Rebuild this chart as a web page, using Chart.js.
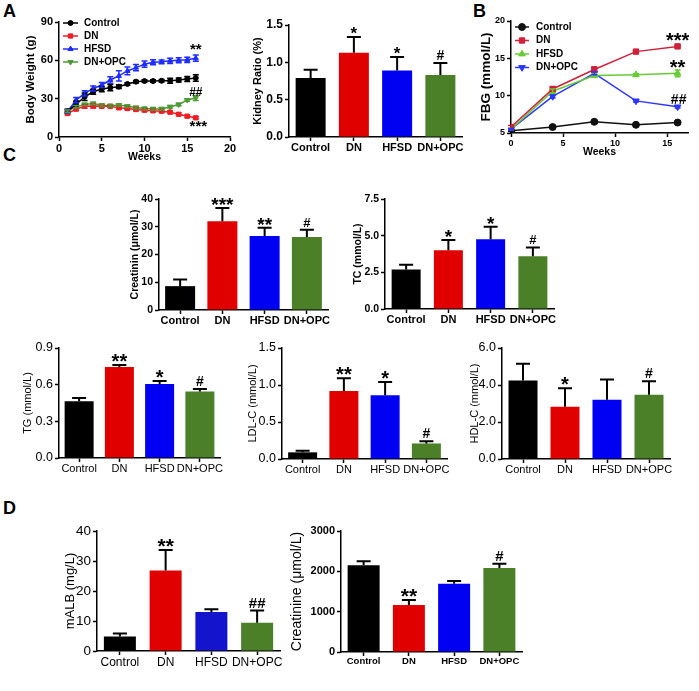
<!DOCTYPE html>
<html>
<head>
<meta charset="utf-8">
<script src="https://cdn.jsdelivr.net/npm/chart.js@4.4.0/dist/chart.umd.min.js"></script>
<style>
  html, body { margin: 0; padding: 0; background: #fff; }
  #fig { position: relative; width: 699px; height: 691px; overflow: hidden; font-family: 'Liberation Sans', Arial, sans-serif; }
  .tag { position: absolute; font-weight: bold; font-size: 18px; line-height: 1; color: #000; }
  canvas { position: absolute; }
</style>
</head>
<body>
<div id="fig">
  <div class="tag" style="left:3px;top:2px">A</div>
  <div class="tag" style="left:473px;top:2px">B</div>
  <div class="tag" style="left:3px;top:146px">C</div>
  <div class="tag" style="left:3px;top:499px">D</div>
</div>
<script>
const FONT = "'Liberation Sans', Arial, sans-serif";
const groups = ['Control', 'DN', 'HFSD', 'DN+OPC'];
const groupColors = ['#000000', '#e10000', '#0000f2', '#4b7f28'];

// A - body weight over weeks
const weeksA = [1, 2, 3, 4, 5, 6, 7, 8, 9, 10, 11, 12, 13, 14, 15, 16];
const bwControl = [20.2, 25.5, 31.5, 35.4, 37.5, 38.6, 39.4, 41.5, 43.3, 43.8, 43.8, 44.0, 44.0, 44.6, 45.4, 46.2];
const bwDN = [18.4, 21.8, 24.0, 24.2, 24.0, 24.0, 22.8, 22.3, 21.5, 21.0, 20.5, 20.2, 19.4, 17.8, 16.3, 15.0];
const bwHFSD = [20.0, 28.9, 34.1, 38.0, 40.7, 44.6, 47.8, 51.7, 54.3, 57.0, 58.5, 58.8, 59.6, 60.1, 60.4, 61.7];
const bwOPC = [20.2, 23.6, 25.4, 26.2, 24.9, 24.4, 25.0, 24.1, 23.0, 22.3, 22.0, 22.0, 23.6, 25.4, 28.9, 30.5];
const bwControlErr = [1.5, 2.5, 3, 2, 2, 2.5, 1.5, 1, 1, 1, 1, 1, 2, 1.5, 2, 2.5];
const bwDNErr = [1, 1, 1.5, 1.5, 1, 1, 1, 1, 1, 1, 1, 1, 1, 1, 1, 1];
const bwHFSDErr = [1.5, 2, 2, 2, 2, 2.5, 4, 3, 2.5, 2.5, 2, 1.5, 2, 2, 2, 2.5];
const bwOPCErr = [1, 1, 1, 1, 1, 1, 1, 1, 1, 1, 1, 1, 1, 1, 1, 2];
const bwNotes = [{ x: 16, y: 70.5, text: '**' }, { x: 16, y: 36, text: '##' }, { x: 16.3, y: 10, text: '***' }];

const kidneyRatio = [0.79, 1.13, 0.89, 0.83];
const kidneyRatioErr = [0.11, 0.21, 0.18, 0.16];
const kidneyRatioMarks = ['', '*', '*', '#'];

// B - fasting blood glucose
const weeksB = [0, 4, 8, 12, 16];
const fbgControl = [5.3, 5.8, 6.5, 6.1, 6.4];
const fbgDN = [5.8, 10.9, 13.5, 15.9, 16.6];
const fbgHFSD = [5.5, 10.6, 12.7, 12.8, 13.0];
const fbgOPC = [5.5, 9.9, 13.0, 9.3, 8.5];
const fbgControlErr = [0.1, 0.1, 0.15, 0.1, 0.1];
const fbgDNErr = [0.2, 0.3, 0.35, 0.15, 0.15];
const fbgHFSDErr = [0.1, 0.3, 0.2, 0.15, 0.45];
const fbgOPCErr = [0.1, 0.2, 0.2, 0.15, 0.15];
const fbgNotes = [{ x: 16, y: 17.9, text: '***' }, { x: 16, y: 14.3, text: '**' }, { x: 16.1, y: 9.6, text: '##' }];

// C - serum lipids / creatinin
const creatinin = [8.6, 32.0, 26.7, 26.3];
const creatininErr = [2.4, 4.8, 2.9, 2.6];
const creatininMarks = ['', '***', '**', '#'];
const tc = [2.7, 4.0, 4.75, 3.6];
const tcErr = [0.32, 0.7, 0.85, 0.6];
const tcMarks = ['', '*', '*', '#'];
const tg = [0.465, 0.745, 0.605, 0.545];
const tgErr = [0.025, 0.015, 0.025, 0.02];
const tgMarks = ['', '**', '*', '#'];
const ldl = [0.09, 0.92, 0.86, 0.21];
const ldlErr = [0.02, 0.17, 0.18, 0.03];
const ldlMarks = ['', '**', '*', '#'];
const hdl = [4.25, 2.82, 3.2, 3.47];
const hdlErr = [0.9, 1.0, 1.1, 0.73];
const hdlMarks = ['', '*', '', '#'];

// D - urine
const malb = [4.8, 26.8, 13.0, 9.4];
const malbErr = [1.0, 6.9, 0.9, 4.1];
const malbMarks = ['', '**', '', '##'];
const urineCreatinine = [2150, 1165, 1690, 2085];
const urineCreatinineErr = [100, 125, 70, 105];
const urineCreatinineMarks = ['', '**', '', '#'];

// place a mark by its real glyph box: anchor 'bottom' = glyph bottom at y, else glyph centre at y
function drawMark(ctx, text, x, y, o, anchor) {
    const star = text.includes('*');
    const size = star ? o.starSize : o.hashSize;
    ctx.font = `bold ${size}px ${FONT}`;
    ctx.fillStyle = '#000';
    ctx.textAlign = 'center';
    ctx.textBaseline = 'alphabetic';
    const mt = ctx.measureText(text);
    const asc = mt.actualBoundingBoxAscent;
    const desc = mt.actualBoundingBoxDescent;
    const base = anchor === 'bottom' ? y - desc : y + (asc - desc) / 2;
    ctx.fillText(text, x, base);
}

// error bars, significance marks and the in-plot legend
const extras = {
    id: 'extras',
    afterDatasetsDraw(chart, args, o) {
        const ctx = chart.ctx;
        const ys = chart.scales.y;
        const xs = chart.scales.x;
        ctx.save();
        chart.data.datasets.forEach((ds, di) => {
            if (!ds.errors) return;
            const meta = chart.getDatasetMeta(di);
            meta.data.forEach((el, i) => {
                const raw = ds.data[i];
                const v = typeof raw === 'object' ? raw.y : raw;
                const e = ds.errors[i];
                const top = ys.getPixelForValue(v + e);
                const bot = ys.getPixelForValue(o.both ? v - e : v);
                ctx.strokeStyle = ds.errorColor || '#000';
                ctx.lineWidth = o.errWidth;
                ctx.beginPath();
                ctx.moveTo(el.x, top);
                ctx.lineTo(el.x, bot);
                ctx.moveTo(el.x - o.cap, top);
                ctx.lineTo(el.x + o.cap, top);
                if (o.both) {
                    ctx.moveTo(el.x - o.cap, bot);
                    ctx.lineTo(el.x + o.cap, bot);
                }
                ctx.stroke();
                if (ds.marks && ds.marks[i]) drawMark(ctx, ds.marks[i], el.x, top - 3, o, 'bottom');
            });
        });
        (o.notes || []).forEach((n) => {
            drawMark(ctx, n.text, xs.getPixelForValue(n.x), ys.getPixelForValue(n.y), o, 'center');
        });
        if (o.legend) {
            const lg = o.legend;
            const ca = chart.chartArea;
            chart.data.datasets.forEach((ds, i) => {
                const cy = ca.top + lg.dy + i * lg.gap;
                const x0 = ca.left + lg.dx;
                ctx.strokeStyle = ds.borderColor;
                ctx.fillStyle = ds.borderColor;
                ctx.lineWidth = ds.borderWidth;
                ctx.beginPath();
                ctx.moveTo(x0, cy);
                ctx.lineTo(x0 + lg.w, cy);
                ctx.stroke();
                ctx.lineWidth = 1;
                Chart.helpers.drawPoint(ctx, {
                    pointStyle: ds.pointStyle,
                    rotation: ds.pointRotation || 0,
                    radius: ds.pointRadius,
                    borderWidth: 1,
                }, x0 + lg.w / 2, cy);
                ctx.font = `bold ${lg.size}px ${FONT}`;
                ctx.fillStyle = '#000';
                ctx.textAlign = 'left';
                ctx.textBaseline = 'middle';
                ctx.fillText(ds.label, x0 + lg.w + lg.pad, cy);
            });
        }
        ctx.restore();
    },
};

// put a canvas on the page so the plot area lands on box L/T/R/B
function mount(box) {
    const lh = box.tf * 1.2;
    const left = Math.round(box.tx - lh / 2);
    const top = box.T - 14;
    const width = box.R + 16 - left;
    const height = box.B + box.xh - top;
    const c = document.createElement('canvas');
    c.style.left = left + 'px';
    c.style.top = top + 'px';
    c.style.width = width + 'px';
    c.style.height = height + 'px';
    c.width = width;
    c.height = height;
    document.getElementById('fig').appendChild(c);
    return { canvas: c, yW: box.L - left, xH: box.xh };
}

function axis(font, pad) {
    return {
        border: { display: true, color: '#000', width: 1.5 },
        grid: { display: true, drawOnChartArea: false, drawTicks: true, tickLength: 4, tickColor: '#000', tickWidth: 1.5, offset: false },
        ticks: { color: '#000', font, padding: pad, maxRotation: 0, minRotation: 0, autoSkip: false },
    };
}

function yTitle(text, size, weight) {
    return { display: true, text, color: '#000', font: { family: FONT, size, weight }, padding: { top: 0, bottom: 0 } };
}

function barChart(box, cfg) {
    const m = mount(box);
    const band = (box.R - box.L) / groups.length;
    const x = axis(cfg.xFont, 0);
    x.afterFit = (s) => { s.height = m.xH; s.paddingLeft = 0; s.paddingRight = 0; };
    const y = axis(cfg.yFont, 2);
    y.min = 0;
    y.max = cfg.max;
    y.ticks.stepSize = cfg.step;
    y.ticks.callback = (v) => cfg.digits !== undefined ? Number(v).toFixed(cfg.digits) : String(v);
    y.title = yTitle(cfg.title, box.tf, cfg.titleWeight);
    y.afterFit = (s) => { s.width = m.yW; s.paddingTop = 0; s.paddingBottom = 0; };
    return new Chart(m.canvas, {
        type: 'bar',
        data: {
            labels: groups,
            datasets: [{
                data: cfg.values,
                errors: cfg.errors,
                marks: cfg.marks,
                backgroundColor: cfg.colors || groupColors,
                borderWidth: 0,
                categoryPercentage: 1,
                barPercentage: box.bw / band,
            }],
        },
        options: {
            responsive: false,
            animation: false,
            layout: { padding: { top: 14, right: 16, left: 0, bottom: 0 } },
            plugins: {
                legend: { display: false },
                tooltip: { enabled: false },
                extras: { cap: 7, errWidth: 2, starSize: cfg.starSize, hashSize: cfg.hashSize },
            },
            scales: { x, y },
        },
        plugins: [extras],
    });
}

function series(label, xs, ys, errs, color, style, rot, r) {
    return {
        label,
        data: xs.map((v, i) => ({ x: v, y: ys[i] })),
        errors: errs,
        errorColor: color,
        borderColor: color,
        backgroundColor: color,
        pointBackgroundColor: color,
        pointBorderColor: color,
        pointStyle: style,
        pointRotation: rot,
        pointRadius: r,
        pointBorderWidth: 1,
        borderWidth: 1.5,
    };
}

function lineChart(box, cfg) {
    const m = mount(box);
    const x = axis(cfg.tickFont, 1);
    x.type = 'linear';
    x.min = cfg.xMin;
    x.max = cfg.xMax;
    x.ticks.stepSize = cfg.xStep;
    x.ticks.includeBounds = false;
    x.title = { display: true, text: 'Weeks', color: '#000', font: { family: FONT, size: cfg.xTitleSize, weight: 'bold' }, padding: { top: 0, bottom: 0 } };
    x.afterFit = (s) => { s.height = m.xH; s.paddingLeft = 0; s.paddingRight = 0; };
    const y = axis(cfg.tickFont, 2);
    y.min = cfg.yMin;
    y.max = cfg.yMax;
    y.ticks.stepSize = cfg.yStep;
    y.title = yTitle(cfg.title, box.tf, 'bold');
    y.afterFit = (s) => { s.width = m.yW; s.paddingTop = 0; s.paddingBottom = 0; };
    return new Chart(m.canvas, {
        type: 'line',
        data: { datasets: cfg.datasets },
        options: {
            responsive: false,
            animation: false,
            layout: { padding: { top: 14, right: 16, left: 0, bottom: 0 } },
            plugins: {
                legend: { display: false },
                tooltip: { enabled: false },
                extras: { cap: 3, errWidth: 1.5, both: true, starSize: cfg.starSize, hashSize: cfg.hashSize, notes: cfg.notes, legend: cfg.legend },
            },
            scales: { x, y },
        },
        plugins: [extras],
    });
}

const bold = (size) => ({ family: FONT, size, weight: 'bold' });
const plain = (size) => ({ family: FONT, size, weight: 'normal' });

// A left: body weight
lineChart({ L: 59, T: 22, R: 230, B: 137, tx: 31, tf: 11.5, xh: 26 }, {
    title: 'Body Weight (g)',
    tickFont: bold(11), xTitleSize: 10.5,
    xMin: 0, xMax: 20, xStep: 5, yMin: 0, yMax: 90, yStep: 30,
    starSize: 15, hashSize: 12,
    notes: bwNotes,
    legend: { dx: 4, dy: 1, gap: 13, w: 15, pad: 6, size: 10 },
    datasets: [
        series('Control', weeksA, bwControl, bwControlErr, '#000000', 'circle', 0, 2.5),
        series('DN', weeksA, bwDN, bwDNErr, '#ee1c25', 'rect', 0, 3),
        series('HFSD', weeksA, bwHFSD, bwHFSDErr, '#1f2cff', 'triangle', 0, 3),
        series('DN+OPC', weeksA, bwOPC, bwOPCErr, '#4b9a36', 'triangle', 180, 3),
    ],
});

// A right: kidney ratio
barChart({ L: 289, T: 25, R: 462, B: 137, tx: 258, tf: 11, xh: 18, bw: 30 }, {
    values: kidneyRatio, errors: kidneyRatioErr, marks: kidneyRatioMarks,
    max: 1.5, step: 0.5, digits: 1, title: 'Kidney Ratio (%)', titleWeight: 'bold',
    xFont: bold(11), yFont: bold(12), starSize: 17, hashSize: 14,
});

// B: fasting blood glucose
lineChart({ L: 511, T: 21, R: 688, B: 133, tx: 486, tf: 13.5, xh: 25 }, {
    title: 'FBG (mmol/L)',
    tickFont: bold(9), xTitleSize: 10.5,
    xMin: 0, xMax: 17, xStep: 5, yMin: 5, yMax: 20, yStep: 5,
    starSize: 20, hashSize: 14,
    notes: fbgNotes,
    legend: { dx: 4, dy: 6, gap: 13.5, w: 14, pad: 7, size: 10 },
    datasets: [
        series('Control', weeksB, fbgControl, fbgControlErr, '#111111', 'circle', 0, 3.5),
        series('DN', weeksB, fbgDN, fbgDNErr, '#d0203a', 'rect', 0, 3.8),
        series('HFSD', weeksB, fbgHFSD, fbgHFSDErr, '#66cc33', 'triangle', 0, 3.8),
        series('DN+OPC', weeksB, fbgOPC, fbgOPCErr, '#2b36ff', 'triangle', 180, 3.8),
    ],
});

// C top
barChart({ L: 159, T: 199, R: 328, B: 310, tx: 135, tf: 10.5, xh: 18, bw: 30 }, {
    values: creatinin, errors: creatininErr, marks: creatininMarks,
    max: 40, step: 10, title: 'Creatinin (μmol/L)', titleWeight: 'bold',
    xFont: bold(11), yFont: bold(10.5), starSize: 19, hashSize: 13,
});
barChart({ L: 385, T: 199, R: 554, B: 309, tx: 358, tf: 10.5, xh: 18, bw: 29 }, {
    values: tc, errors: tcErr, marks: tcMarks,
    max: 7.5, step: 2.5, digits: 1, title: 'TC (mmol/L)', titleWeight: 'bold',
    xFont: bold(11), yFont: bold(10.5), starSize: 19, hashSize: 13,
});

// C bottom
barChart({ L: 59, T: 348, R: 220, B: 458, tx: 28, tf: 11, xh: 18, bw: 29 }, {
    values: tg, errors: tgErr, marks: tgMarks,
    max: 0.9, step: 0.3, digits: 1, title: 'TG (mmol/L)', titleWeight: 'normal',
    xFont: plain(11), yFont: plain(12.5), starSize: 20, hashSize: 14,
});
barChart({ L: 282, T: 348, R: 447, B: 459, tx: 253, tf: 11, xh: 18, bw: 29 }, {
    values: ldl, errors: ldlErr, marks: ldlMarks,
    max: 1.5, step: 0.5, digits: 1, title: 'LDL-C (mmol/L)', titleWeight: 'normal',
    xFont: plain(11), yFont: plain(12.5), starSize: 20, hashSize: 14,
});
barChart({ L: 502, T: 348, R: 670, B: 459, tx: 475, tf: 11, xh: 18, bw: 29 }, {
    values: hdl, errors: hdlErr, marks: hdlMarks,
    max: 6, step: 2, digits: 1, title: 'HDL-C (mmol/L)', titleWeight: 'normal',
    xFont: plain(11), yFont: plain(12.5), starSize: 20, hashSize: 14,
});

// D
barChart({ L: 97, T: 531, R: 280, B: 651, tx: 71, tf: 13, xh: 20, bw: 32 }, {
    values: malb, errors: malbErr, marks: malbMarks,
    max: 40, step: 10, title: 'mALB (mg/L)', titleWeight: 'normal',
    colors: ['#000000', '#e10000', '#1414cc', '#4b7f28'],
    xFont: plain(12), yFont: plain(13.5), starSize: 21, hashSize: 15,
});
barChart({ L: 341, T: 531, R: 522, B: 652, tx: 297, tf: 14, xh: 20, bw: 32 }, {
    values: urineCreatinine, errors: urineCreatinineErr, marks: urineCreatinineMarks,
    max: 3000, step: 1000, title: 'Creatinine (μmol/L)', titleWeight: 'normal',
    xFont: bold(9.5), yFont: bold(11), starSize: 21, hashSize: 15,
});
</script>
</body>
</html>
